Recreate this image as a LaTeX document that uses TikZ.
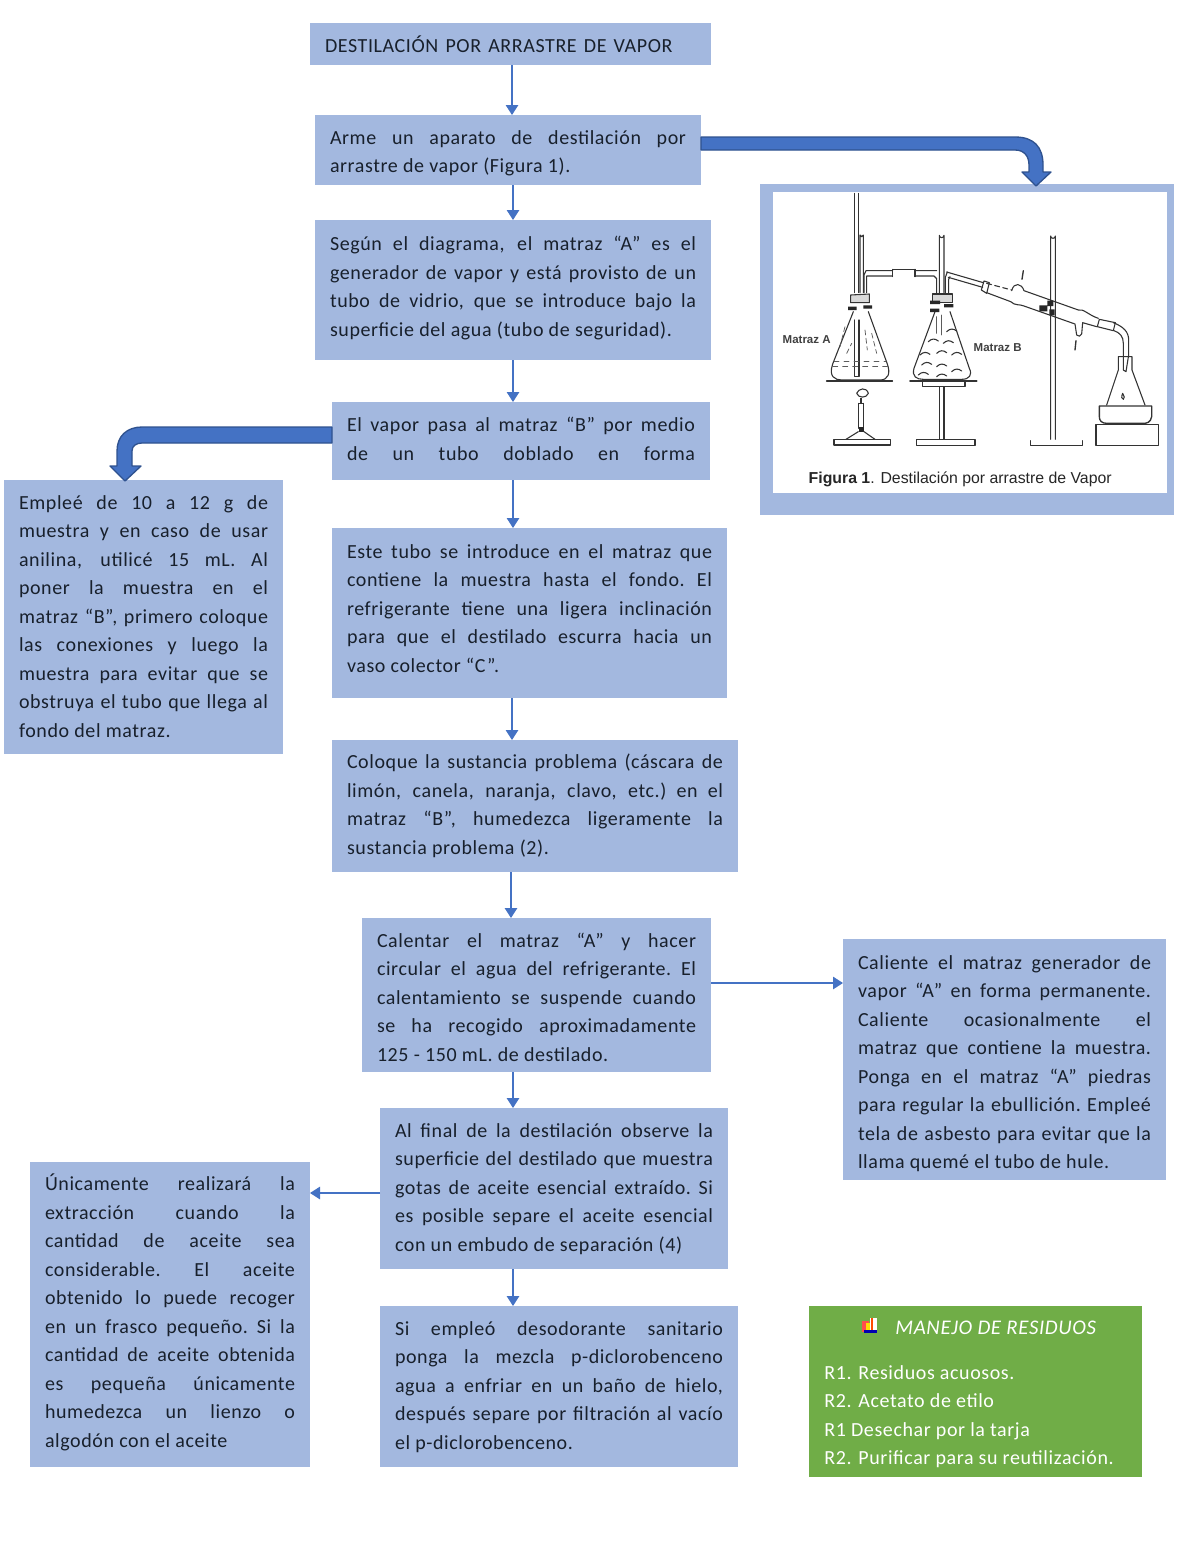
\documentclass[tikz,border=0pt]{standalone}
\usepackage{fontspec}
\setmainfont[LetterSpace=3.0]{Carlito}
\newfontfamily\figfont{Liberation Sans}
\usetikzlibrary{arrows.meta}
\definecolor{boxblue}{HTML}{A3B8DF}
\definecolor{arrblue}{HTML}{4472C4}
\definecolor{arrdark}{HTML}{2F528F}
\definecolor{wastegreen}{HTML}{70AD47}
\definecolor{ink}{HTML}{18202C}
\definecolor{chem}{HTML}{333333}
\newcommand\JL[1]{\par\noindent\hbox to \hsize{\spaceskip=0.24em plus 1fil\relax\xspaceskip=\spaceskip #1}\par}
\newcommand\PL[1]{\par\noindent\hbox{\spaceskip=0.26em\relax\xspaceskip=\spaceskip #1}\par}
\newcommand\FL[2]{\par\noindent\hbox to #1{\spaceskip=0.24em plus 1fil\relax\xspaceskip=\spaceskip #2}\par}
\newcommand\UP[1]{\par\kern\dimexpr #1pt*6/5\relax}
\tikzset{
  box/.style 2 args={rectangle, fill=boxblue, anchor=north west, outer sep=0pt,
    inner xsep=9pt, inner ysep=0pt, minimum width=#1*0.6pt, minimum height=#2*0.6pt,
    text width=#1*0.6pt-18pt, text=ink, font=\fontsize{12}{17.1}\selectfont},
  thin arrow/.style={draw=arrblue, line width=0.75pt, -{Triangle[width=7.5pt,length=6pt]}},
  fat arrow/.style={fill=arrblue, draw=arrdark, line width=0.8pt, line join=round},
  chemline/.style={draw=chem, line width=0.65pt, line cap=round, line join=round},
  chemthin/.style={draw=chem!80, line width=0.45pt, line cap=round},
  chemblack/.style={fill=black!85, draw=none},
}
\begin{document}
\begin{tikzpicture}[x=0.6pt,y=-0.6pt]
\useasboundingbox (0,0) rectangle (1200,1553);

\node[box={401}{42}] (title) at (310,23) {\FL{208.5pt}{DESTILACIÓN POR ARRASTRE DE VAPOR}\UP{6}};
\node[box={386}{70}] (a) at (315,115) {\JL{Arme un aparato de destilación por}\PL{arrastre de vapor (Figura 1).}\UP{4}};
\node[box={396}{140}] (b) at (315,220) {\JL{Según el diagrama, el matraz “A” es el}\JL{generador de vapor y está provisto de un}\JL{tubo de vidrio, que se introduce bajo la}\PL{superficie del agua (tubo de seguridad).}\UP{9}};
\node[box={378}{78}] (c) at (332,402) {\JL{El vapor pasa al matraz “B” por medio}\JL{de un tubo doblado en forma}\UP{9}};
\node[box={395}{170}] (d) at (332,528) {\JL{Este tubo se introduce en el matraz que}\JL{contiene la muestra hasta el fondo. El}\JL{refrigerante tiene una ligera inclinación}\JL{para que el destilado escurra hacia un}\PL{vaso colector “C”.}\UP{12}};
\node[box={406}{132}] (e) at (332,740) {\JL{Coloque la sustancia problema (cáscara de}\JL{limón, canela, naranja, clavo, etc.) en el}\JL{matraz “B”, humedezca ligeramente la}\PL{sustancia problema (2).}\UP{7}};
\node[box={349}{154}] (f) at (362,918) {\JL{Calentar el matraz “A” y hacer}\JL{circular el agua del refrigerante. El}\JL{calentamiento se suspende cuando}\JL{se ha recogido aproximadamente}\PL{125 - 150 mL. de destilado.}\UP{5}};
\node[box={348}{161}] (g) at (380,1108) {\JL{Al final de la destilación observe la}\JL{superficie del destilado que muestra}\JL{gotas de aceite esencial extraído. Si}\JL{es posible separe el aceite esencial}\PL{con un embudo de separación (4)}\UP{7}};
\node[box={358}{161}] (h) at (380,1306) {\JL{Si empleó desodorante sanitario}\JL{ponga la mezcla p-diclorobenceno}\JL{agua a enfriar en un baño de hielo,}\JL{después separe por filtración al vacío}\PL{el p-diclorobenceno.}\UP{7}};
\node[box={279}{274}] (l1) at (4,480) {\JL{Empleé de 10 a 12 g de}\JL{muestra y en caso de usar}\JL{anilina, utilicé 15 mL. Al}\JL{poner la muestra en el}\JL{matraz “B”, primero coloque}\JL{las conexiones y luego la}\JL{muestra para evitar que se}\JL{obstruya el tubo que llega al}\PL{fondo del matraz.}\UP{8}};
\node[box={280}{305}] (l2) at (30,1162) {\JL{Únicamente realizará la}\JL{extracción cuando la}\JL{cantidad de aceite sea}\JL{considerable. El aceite}\JL{obtenido lo puede recoger}\JL{en un frasco pequeño. Si la}\JL{cantidad de aceite obtenida}\JL{es pequeña únicamente}\JL{humedezca un lienzo o}\PL{algodón con el aceite}\UP{8}};
\node[box={323}{241}] (r) at (843,939) {\JL{Caliente el matraz generador de}\JL{vapor “A” en forma permanente.}\JL{Caliente ocasionalmente el}\JL{matraz que contiene la muestra.}\JL{Ponga en el matraz “A” piedras}\JL{para regular la ebullición. Empleé}\JL{tela de asbesto para evitar que la}\PL{llama quemé el tubo de hule.}\UP{3}};

% waste box
\node[box={333}{171}, fill=wastegreen] (waste) at (809,1306) {};
\node[anchor=west, inner sep=0pt, text=white, font=\fontsize{12.5}{17.1}\selectfont\itshape] (wtitle) at (895,1328) {MANEJO DE RESIDUOS};
\node[anchor=north west, inner sep=0pt, text=white, align=left, font=\fontsize{12}{17.1}\selectfont] (wtext) at (824,1365) {R1. Residuos acuosos.\\R2. Acetato de etilo\\R1 Desechar por la tarja\\R2. Purificar para su reutilización.};
% waste icon
\fill[red!70!white] (862,1321) rectangle (869,1332);
\fill[yellow!80!orange] (866,1323) rectangle (871,1330);
\fill[white] (870,1318) rectangle (877,1330);
\fill[orange!60!red] (871,1318) rectangle (873,1330);
\fill[blue!70!black] (864,1330) rectangle (877,1333);

% figure frame
\node[box={414}{331}] (fig) at (760,184) {};
\node[rectangle, fill=white, anchor=north west, inner sep=0pt, minimum width=394*0.6pt, minimum height=301*0.6pt] (figimg) at (773,192) {};

% thin connectors
\draw[thin arrow] (title.south -| 512,0) -- (a.north -| 512,0);
\draw[thin arrow] (a.south -| 513,0) -- (b.north -| 513,0);
\draw[thin arrow] (b.south -| 513,0) -- (c.north -| 513,0);
\draw[thin arrow] (c.south -| 513,0) -- (d.north -| 513,0);
\draw[thin arrow] (d.south -| 512,0) -- (e.north -| 512,0);
\draw[thin arrow] (e.south -| 511,0) -- (f.north -| 511,0);
\draw[thin arrow] (f.south -| 513,0) -- (g.north -| 513,0);
\draw[thin arrow] (g.south -| 513,0) -- (h.north -| 513,0);
\draw[thin arrow] (f.east |- 0,983) -- (r.west |- 0,983);
\draw[thin arrow] (g.west |- 0,1193) -- (l2.east |- 0,1193);

% fat connectors
\draw[fat arrow] (a.east |- 0,150) -- (a.east |- 0,137) -- (1015,137) .. controls (1034,137) and (1043,147) .. (1043,165)
  -- (1043,172) -- (1051,172) -- (1036,186) -- (1022,172) -- (1029,172) -- (1029,165)
  .. controls (1029,156) and (1024,150) .. (1015,150) -- cycle;
\draw[fat arrow] (c.west |- 0,443) -- (c.west |- 0,427) -- (142,427) .. controls (127,427) and (117,436) .. (117,451)
  -- (117,466) -- (110,466) -- (125,481) -- (141,466) -- (132,466) -- (132,451)
  .. controls (132,446) and (136,443) .. (142,443) -- cycle;

% apparatus, in 1/3 px units from the frame corner
\begin{scope}[shift={(760,180)}, x=0.2pt, y=-0.2pt]
 % tubes A
 \draw[chemline] (283,40) -- (283,338) (295,40) -- (295,338);
 \draw[chemline] (300,338) -- (300,165) arc[start angle=180,end angle=0,radius=5] -- (310,338);
 \draw[chemline] (312,338) -- (312,285) -- (318,272) -- (398,272) (320,288) -- (398,288) (320,288) -- (320,338);
 \draw[chemline] (398,268) -- (465,268) (398,268) -- (398,290) (465,268) -- (465,290);
 \draw[chemline] (465,272) -- (530,272) (465,288) -- (522,288) -- (530,296) -- (530,338);
 % tube B
 \draw[chemline] (538,338) -- (538,166) arc[start angle=180,end angle=0,radius=7] -- (552,338);
 \draw[chemline] (556,338) -- (556,292) -- (562,276) (566,338) -- (566,298) -- (570,290);
 % flask A
 \draw[chemline, fill=black!15] (272,345) -- (328,342) -- (328,368) -- (272,368) -- cycle;
 \draw[chemline] (280,395) -- (218,552) .. controls (205,590) and (225,600) .. (245,600) -- (360,600) .. controls (385,600) and (392,580) .. (382,552) -- (325,395);
 \draw[chemline] (283,420) -- (283,590) -- (297,590) -- (297,420);
 \draw[chemthin, dashed] (222,545) -- (378,545) (218,560) -- (384,560);
 \draw[chemthin, densely dashed] (255,440) -- (240,500) (315,450) -- (322,510) (335,460) -- (350,520) (260,520) -- (275,490);
 \fill[chemblack] (264,380) rectangle (290,390) (310,376) rectangle (336,386);
 \draw[chemline, line width=1pt] (200,603) -- (397,603);
 % burner
 \draw[chemline] (290,640) .. controls (295,625) and (320,620) .. (325,640) .. controls (320,655) and (295,655) .. (290,640);
 \draw[chemline] (303,655) -- (303,670);
 \draw[chemline] (296,670) -- (296,745) (310,670) -- (310,745) (296,670) -- (310,670);
 \fill[chemblack] (296,742) rectangle (312,755);
 \draw[chemline] (258,778) -- (295,755) (345,778) -- (312,755);
 \draw[chemline] (222,795) -- (222,778) -- (392,778) -- (392,795) -- cycle;
 % flask B
 \draw[chemline, fill=black!15] (518,342) -- (578,342) -- (578,368) -- (518,368) -- cycle;
 \draw[chemline] (525,395) -- (462,565) .. controls (455,590) and (470,598) .. (490,598) -- (605,598) .. controls (628,598) and (638,585) .. (628,565) -- (570,395);
 \fill[chemblack] (510,362) rectangle (540,372) (510,386) rectangle (538,396) (552,372) rectangle (580,382);
 \draw[chemline, line width=1pt] (450,603) -- (650,603);
 \draw[chemline] (488,603) -- (488,620) -- (615,620) -- (615,603);
 \draw[chemline] (538,620) -- (538,778) (552,620) -- (552,778);
 \draw[chemline] (470,797) -- (470,778) -- (645,778) -- (645,797) -- cycle;
 \foreach \wx/\wy in {520/480, 565/485, 590/520, 495/520, 545/515, 500/550, 545/555, 590/570, 490/580, 545/585, 575/450}
   \draw[chemline] (\wx-15,\wy+5) .. controls (\wx-5,\wy-5) and (\wx+5,\wy-5) .. (\wx+15,\wy+3);
 \draw[chemthin] (530,410) -- (530,460) (545,405) -- (545,465);
 % stand
 \draw[chemline] (872,778) -- (872,168) arc[start angle=180,end angle=0,radius=7] -- (886,778);
 \draw[chemline] (812,782) -- (812,797) -- (967,797) -- (967,782);
 % condenser
 \draw[chemline] (560,276) -- (670,308) (565,292) -- (668,322);
 \draw[chemline] (672,303) -- (664,330) -- (680,340) -- (688,308) -- cycle;
 \draw[chemline, densely dashed] (680,310) -- (755,330);
 \draw[chemline] (680,338) -- (752,365) .. controls (765,378) and (780,372) .. (792,378) -- (945,432) -- (950,465) .. controls (955,470) and (962,470) .. (965,462) -- (968,428) -- (1010,440);
 \draw[chemline] (755,332) .. controls (762,305) and (785,310) .. (792,332) -- (955,390) .. controls (970,385) and (985,405) .. (1015,415);
 \draw[chemline] (1018,418) -- (1012,440) -- (1060,452) -- (1066,428) -- cycle;
 \draw[chemline] (1060,428) .. controls (1090,440) and (1106,455) .. (1106,480) -- (1106,525);
 \draw[chemline] (1062,452) .. controls (1080,458) and (1090,470) .. (1090,490) -- (1090,570);
 \draw[chemline] (1106,525) -- (1098,575) -- (1090,570);
 \fill[chemblack] (862,362) rectangle (880,378) (838,376) rectangle (862,394) (868,388) rectangle (884,406);
 \draw[chemline, line width=0.8pt] (790,272) -- (786,298) (948,482) -- (945,510);
 % receiver
 \draw[chemline] (1075,530) -- (1116,530) -- (1116,570) -- (1155,675) (1075,530) -- (1075,570) -- (1040,675);
 \draw[chemline] (1088,640) .. controls (1084,650) and (1084,658) .. (1090,658) .. controls (1096,655) and (1092,648) .. (1088,640);
 \draw[chemline, line width=0.8pt] (1018,678) -- (1175,678) -- (1175,710) .. controls (1172,728) and (1160,730) .. (1150,730) -- (1040,730) .. controls (1025,730) and (1018,722) .. (1018,710) -- cycle;
 \draw[chemline, line width=0.8pt] (1008,733) rectangle (1195,797);
 % labels
 \node[inner sep=0pt, text=black!75, font=\figfont\bfseries\fontsize{6.9}{8}\selectfont] (ma) at (140,478) {Matraz A};
 \node[inner sep=0pt, text=black!75, font=\figfont\bfseries\fontsize{6.9}{8}\selectfont] (mb) at (713,503) {Matraz B};
 \node[anchor=west, inner sep=0pt, text=black!85, font=\figfont\fontsize{9.5}{11}\selectfont] (cap) at (145,897) {\textbf{Figura 1}. Destilación por arrastre de Vapor};
\end{scope}
\end{tikzpicture}
\end{document}
